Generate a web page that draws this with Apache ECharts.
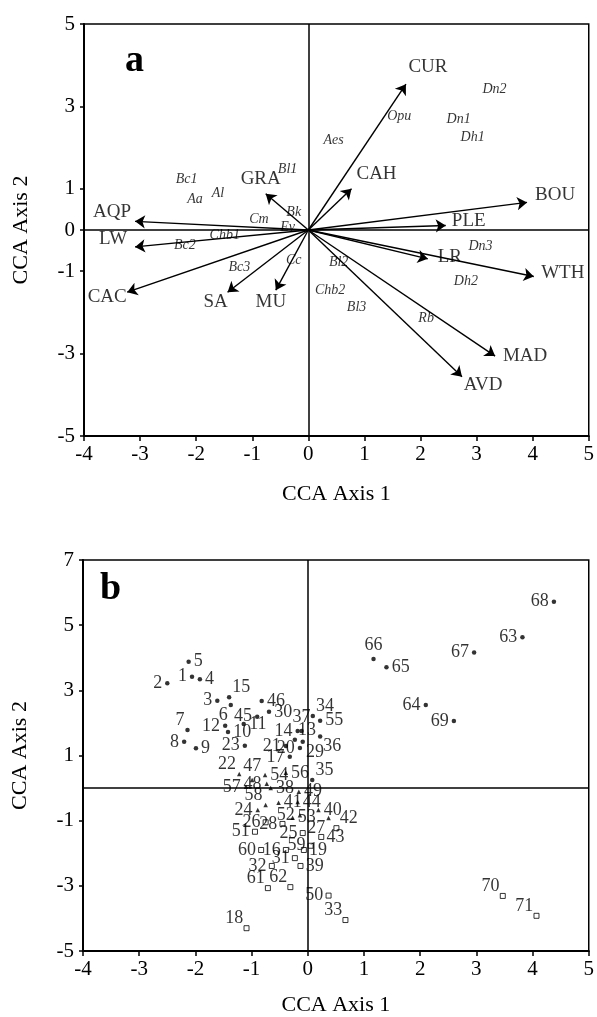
<!DOCTYPE html>
<html>
<head>
<meta charset="utf-8">
<script src="https://cdn.jsdelivr.net/npm/echarts@6/dist/echarts.min.js"></script>
<style>
  html, body { margin: 0; padding: 0; background: #fff; }
  #chart { width: 597px; height: 1017px; }
</style>
</head>
<body>
<div id="chart"></div>
<script>
// ---- panel a: environmental variables (arrow tips, CCA axis 1 / axis 2)
const envNames = ['CUR', 'CAH', 'BOU', 'PLE', 'LR', 'WTH', 'MAD', 'AVD', 'MU', 'SA', 'CAC', 'LW', 'AQP', 'GRA'];
const envX = [1.74, 0.77, 3.90, 2.45, 2.13, 4.02, 3.33, 2.74, -0.58, -1.44, -3.23, -3.09, -3.09, -0.76];
const envY = [3.54, 1.00, 0.67, 0.11, -0.70, -1.13, -3.06, -3.56, -1.46, -1.51, -1.51, -0.41, 0.21, 0.88];

// ---- panel a: species scores
const speciesNames = ['Dn2', 'Opu', 'Dn1', 'Dh1', 'Aes', 'Bl1', 'Bc1', 'Aa', 'Al', 'Cm', 'Bk', 'Ev',
  'Chb1', 'Bc2', 'Bc3', 'Cc', 'Bl2', 'Chb2', 'Bl3', 'Rb', 'Dn3', 'Dh2'];
const speciesX = [3.32, 1.62, 2.68, 2.93, 0.45, -0.37, -2.17, -2.02, -1.61, -0.88, -0.26, -0.37,
  -1.49, -2.20, -1.23, -0.26, 0.54, 0.39, 0.86, 2.10, 3.07, 2.81];
const speciesY = [3.42, 2.77, 2.69, 2.25, 2.17, 1.48, 1.24, 0.74, 0.88, 0.27, 0.43, 0.07,
  -0.13, -0.38, -0.90, -0.74, -0.78, -1.46, -1.88, -2.15, -0.40, -1.24];

// ---- panel b: sites 1..71
const siteNames = Array.from({ length: 71 }, (_, i) => String(i + 1));
const siteX = [-2.06, -2.50, -1.61, -1.92, -2.12, -1.37, -2.14, -2.20, -1.99, -1.42,
  -1.14, -1.47, -0.23, -0.18, -1.40, -0.39, -0.32, -1.09, -0.07, -0.14,
  -0.39, -1.22, -1.12, -0.89, -0.09, -0.75, 0.37, -0.45, -0.09, -0.69,
  -0.23, -0.64, 0.67, 0.09, 0.08, 0.22, -0.11, -0.66, -0.13, 0.19,
  -0.52, 0.51, 0.24, -0.18, -0.90, -0.82, -0.99, -0.73, -0.16, 0.37,
  -0.94, -0.14, -0.27, -0.76, 0.22, -0.39, -1.10, -0.75, 0.05, -0.83,
  -0.71, -0.31, 3.82, 2.10, 1.40, 1.17, 2.96, 4.38, 2.60, 3.47, 4.07];
const siteY = [3.42, 3.22, 2.68, 3.34, 3.88, 2.55, 1.78, 1.42, 1.22, 1.72,
  1.97, 1.91, 1.48, 1.75, 2.79, -1.90, 0.96, -4.30, -1.90, 1.23,
  1.29, 0.43, 1.30, -0.67, -1.38, -1.05, -0.92, -1.10, 1.42, 2.34,
  -2.15, -2.39, -4.05, 2.21, 0.25, 1.58, 1.75, 0.00, -2.39, -0.67,
  -0.45, -1.23, -1.50, -0.43, 2.19, 2.67, 0.25, 0.13, -0.11, -3.30,
  -1.34, -0.83, -0.91, 0.40, 2.07, 0.47, 0.04, -0.52, -1.77, -1.90,
  -3.07, -3.04, 4.63, 2.55, 3.71, 3.96, 4.16, 5.72, 2.06, -3.31, -3.92];
// marker kind: d = dot, t = triangle, s = open square
const siteKind = ['d', 'd', 'd', 'd', 'd', 'd', 'd', 'd', 'd', 'd',
  'd', 'd', 'd', 'd', 'd', 's', 'd', 's', 's', 'd',
  'd', 't', 'd', 't', 's', 's', 't', 's', 'd', 'd',
  's', 's', 's', 'd', 'd', 'd', 'd', 't', 's', 't',
  't', 's', 's', 't', 'd', 'd', 't', 't', 't', 's',
  's', 't', 't', 't', 'd', 't', 't', 't', 's', 's',
  's', 's', 'd', 'd', 'd', 'd', 'd', 'd', 'd', 's', 's'];

const xTicks = [-4, -3, -2, -1, 0, 1, 2, 3, 4, 5];
const yTicksA = [-5, -3, -1, 0, 1, 3, 5];
const yTicksB = [-5, -3, -1, 1, 3, 5, 7];

// ---- label placement (styling only)
const envLabelOffset = {
  CUR: [22, -17], CAH: [25, -15], BOU: [28, -7], PLE: [23, -4], LR: [22, -2], WTH: [29, -4],
  MAD: [30, 0], AVD: [21, 8], MU: [-5, 12], SA: [-12, 10], CAC: [-20, 5], LW: [-22, -8],
  AQP: [-23, -9], GRA: [-5, -15]
};
const siteLabelSide = {
  1: 'l', 2: 'l', 3: 'l', 4: 'r', 5: 'r', 6: 'bl', 7: 'tl', 8: 'l', 9: 'r', 10: 'r',
  11: 'r', 12: 'l', 13: 'tr', 14: 'l', 15: 'tr', 16: 'l', 17: 'l', 18: 'tl', 19: 'r', 20: 'l',
  21: 'l', 22: 'tl', 23: 'l', 24: 'l', 25: 'l', 26: 'l', 27: 'bl', 28: 'l', 29: 'br', 30: 'r',
  31: 'l', 32: 'l', 33: 'tl', 34: 'tr', 35: 'tr', 36: 'br', 37: 't', 38: 'r', 39: 'r', 40: 'r',
  41: 'r', 42: 'tr', 43: 'r', 44: 'r', 45: 'l', 46: 'r', 47: 't', 48: 'l', 49: 'r', 50: 'l',
  51: 'l', 52: 'l', 53: 'r', 54: 'r', 55: 'r', 56: 'r', 57: 'l', 58: 'tl', 59: 'l', 60: 'l',
  61: 'tl', 62: 'tl', 63: 'l', 64: 'l', 65: 'r', 66: 't', 67: 'l', 68: 'l', 69: 'l', 70: 'tl', 71: 'tl'
};

const FONT = '"Liberation Serif", "Times New Roman", serif';

const sideOffset = (side, text) => {
  const h = text.length * 4.6;
  switch (side) {
    case 'l': return [-(h + 5), 0];
    case 'r': return [h + 5, 0];
    case 't': return [0, -14];
    case 'b': return [0, 12];
    case 'tl': return [-(h + 3), -10];
    case 'tr': return [h + 3, -10];
    case 'bl': return [-(h + 3), 10];
    default: return [h + 3, 10];
  }
};

const markerStyle = {
  d: { symbol: 'circle', symbolSize: 4.5, itemStyle: { color: '#000' } },
  t: { symbol: 'triangle', symbolSize: 4.5, itemStyle: { color: '#000' } },
  s: { symbol: 'rect', symbolSize: 5, itemStyle: { color: '#fff', borderColor: '#000', borderWidth: 1 } }
};

const zeroLines = {
  silent: true,
  symbol: ['none', 'none'],
  label: { show: false },
  lineStyle: { color: '#000', width: 1.5, type: 'solid' },
  data: [{ xAxis: 0 }, { yAxis: 0 }]
};

const makeX = (gridIndex, nameGap) => ({
  gridIndex,
  type: 'value',
  min: -4,
  max: 5,
  interval: 1,
  axisLine: { onZero: false, lineStyle: { color: '#000', width: 2 } },
  axisTick: { length: 5, customValues: xTicks, lineStyle: { color: '#000', width: 1.5 } },
  axisLabel: { customValues: xTicks, color: '#000', fontFamily: FONT, fontSize: 21, margin: 8 },
  splitLine: { show: false },
  name: 'CCA Axis 1',
  nameLocation: 'middle',
  nameGap,
  nameTextStyle: { color: '#000', fontFamily: FONT, fontSize: 22 }
});

const makeY = (gridIndex, min, max, ticks) => ({
  gridIndex,
  type: 'value',
  min,
  max,
  interval: 1,
  axisLine: { onZero: false, lineStyle: { color: '#000', width: 2 } },
  axisTick: { length: 4, customValues: ticks, lineStyle: { color: '#000', width: 1.5 } },
  axisLabel: { customValues: ticks, color: '#000', fontFamily: FONT, fontSize: 21, margin: 9 },
  splitLine: { show: false },
  name: 'CCA Axis 2',
  nameLocation: 'middle',
  nameGap: 52,
  nameRotate: 90,
  nameTextStyle: { color: '#000', fontFamily: FONT, fontSize: 22 }
});

const chart = echarts.init(document.getElementById('chart'));

chart.setOption({
  animation: false,
  backgroundColor: '#fff',
  grid: [
    { left: 84, width: 510, top: 24, height: 412, show: true, borderColor: '#000', borderWidth: 1.5 },
    { left: 83, width: 509, top: 560, height: 391, show: true, borderColor: '#000', borderWidth: 1.5 }
  ],
  xAxis: [makeX(0, 47), makeX(1, 43)],
  yAxis: [makeY(0, -5, 5, yTicksA), makeY(1, -5, 7, yTicksB)],
  graphic: [
    { type: 'text', left: 125, top: 42, style: { text: 'a', font: 'bold 38px ' + FONT, fill: '#000' } },
    { type: 'text', left: 100, top: 570, style: { text: 'b', font: 'bold 38px ' + FONT, fill: '#000' } }
  ],
  series: [
    {
      name: 'vectors',
      type: 'lines',
      coordinateSystem: 'cartesian2d',
      xAxisIndex: 0,
      yAxisIndex: 0,
      symbol: ['none', 'arrow'],
      symbolSize: [0, 10],
      lineStyle: { color: '#000', width: 1.4, opacity: 1 },
      data: envNames.map((n, i) => ({ coords: [[0, 0], [envX[i], envY[i]]] }))
    },
    {
      name: 'vectorLabels',
      type: 'scatter',
      xAxisIndex: 0,
      yAxisIndex: 0,
      symbolSize: 1,
      itemStyle: { color: 'transparent' },
      data: envNames.map((n, i) => ({
        name: n,
        value: [envX[i], envY[i]],
        label: { offset: envLabelOffset[n] }
      })),
      label: {
        show: true,
        position: 'inside',
        formatter: '{b}',
        color: '#000',
        fontFamily: FONT,
        fontSize: 19
      }
    },
    {
      name: 'species',
      type: 'scatter',
      xAxisIndex: 0,
      yAxisIndex: 0,
      symbolSize: 1,
      itemStyle: { color: 'transparent' },
      data: speciesNames.map((n, i) => ({ name: n, value: [speciesX[i], speciesY[i]] })),
      label: {
        show: true,
        position: 'inside',
        formatter: '{b}',
        color: '#000',
        fontFamily: FONT,
        fontStyle: 'italic',
        fontSize: 14
      },
      markLine: zeroLines
    },
    {
      name: 'sites',
      type: 'scatter',
      xAxisIndex: 1,
      yAxisIndex: 1,
      data: siteNames.map((n, i) => ({
        name: n,
        value: [siteX[i], siteY[i]],
        ...markerStyle[siteKind[i]],
        label: { offset: sideOffset(siteLabelSide[n], n) }
      })),
      label: {
        show: true,
        position: 'inside',
        formatter: '{b}',
        color: '#000',
        fontFamily: FONT,
        fontSize: 18
      },
      markLine: zeroLines
    }
  ]
});
</script>
</body>
</html>
